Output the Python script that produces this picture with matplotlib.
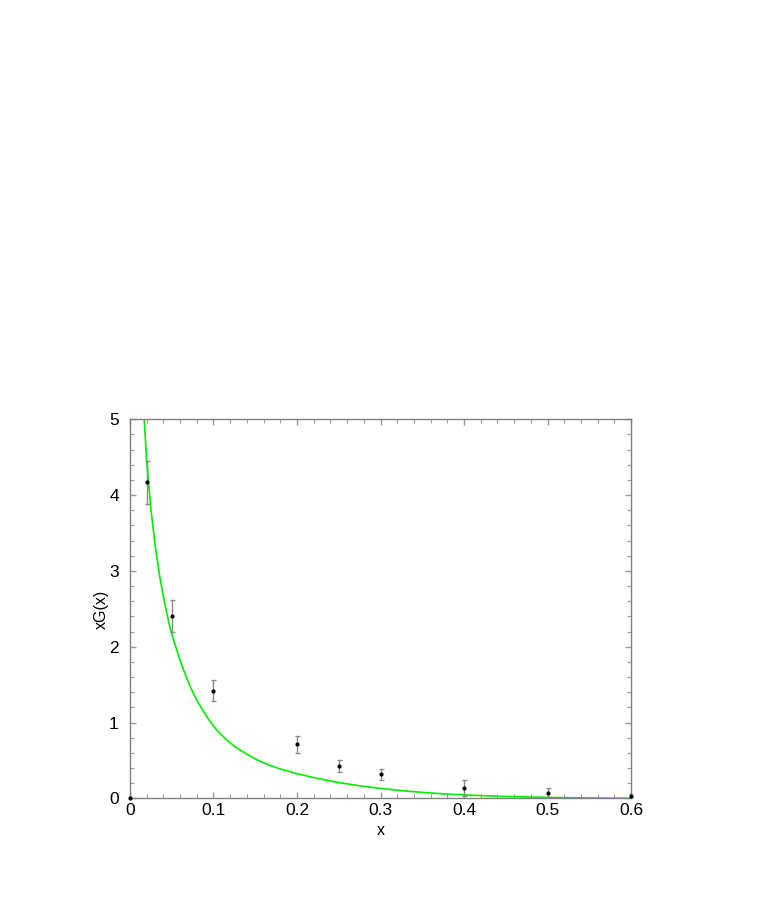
import matplotlib
matplotlib.use("Agg")
import matplotlib.pyplot as plt
from matplotlib.ticker import MultipleLocator

plt.rcParams['font.family'] = ['Liberation Sans', 'DejaVu Sans']

# data points with error bars
x_data = [0.0, 0.02, 0.05, 0.10, 0.20, 0.25, 0.30, 0.40, 0.50, 0.60]
y_data = [0.0, 4.17, 2.41, 1.42, 0.715, 0.43, 0.32, 0.14, 0.077, 0.037]
y_err  = [0.0, 0.285, 0.21, 0.14, 0.11, 0.075, 0.07, 0.11, 0.055, 0.02]

# fitted curve
x_curve = [0.0170, 0.0200, 0.0250, 0.0300, 0.0350, 0.0400, 0.0444, 0.0480, 0.0520,
           0.0560, 0.0600, 0.0640, 0.0690, 0.0740, 0.0800, 0.0867, 0.0950, 0.1040,
           0.1150, 0.1260, 0.1390, 0.1520, 0.1650, 0.1800, 0.1980, 0.2230, 0.2480,
           0.2740, 0.3000, 0.3240, 0.3480, 0.3740, 0.4000, 0.4500, 0.5000, 0.5500,
           0.6000]
y_curve = [5.00, 4.45, 3.82, 3.35, 2.97, 2.66, 2.43, 2.25, 2.10,
           1.96, 1.82, 1.70, 1.56, 1.43, 1.30, 1.17, 1.03, 0.90,
           0.78, 0.68, 0.59, 0.51, 0.446, 0.389, 0.333, 0.268, 0.214,
           0.169, 0.133, 0.105, 0.082, 0.0625, 0.047, 0.026, 0.014, 0.0065,
           0.002]

fig = plt.figure(figsize=(7.61, 9.0), dpi=100)
ax = fig.add_axes([0.1708, 0.1128, 0.6584, 0.4213])

ax.plot(x_curve, y_curve, color='#00ee00', lw=1.2, zorder=2)
ax.errorbar(x_data[1:], y_data[1:], yerr=y_err[1:], fmt='none', ecolor='#8a8a8a',
            elinewidth=1.0, capsize=1.8, capthick=1.0, zorder=3)
ax.plot(x_data, y_data, 'o', color='black', ms=2.0, zorder=4, clip_on=False)

ax.set_xlim(0, 0.6)
ax.set_ylim(0, 5)
ax.xaxis.set_minor_locator(MultipleLocator(0.02))
ax.yaxis.set_minor_locator(MultipleLocator(0.2))
ax.set_xticks([0, 0.1, 0.2, 0.3, 0.4, 0.5, 0.6])
ax.set_xticklabels(['0', '0.1', '0.2', '0.3', '0.4', '0.5', '0.6'])
ax.set_yticks([0, 1, 2, 3, 4, 5])
ax.set_yticklabels(['0', '1', '2', '3', '4', '5'])

for s in ax.spines.values():
    s.set_color('#808080')
    s.set_linewidth(1.0)
ax.tick_params(which='both', direction='in', top=True, right=True, colors='#999999',
               labelcolor='black', labelsize=12.5)
ax.tick_params(which='major', length=4.3, width=1.0)
ax.tick_params(which='minor', length=2.6, width=0.8)
ax.tick_params(axis='x', which='major', pad=3.5)
ax.tick_params(axis='y', which='major', pad=8)

ax.set_xlabel('x', fontsize=11.5, labelpad=3)
ax.set_ylabel('xG(x)', fontsize=11.5, labelpad=0.5)

fig.savefig('out.png', dpi=100)
